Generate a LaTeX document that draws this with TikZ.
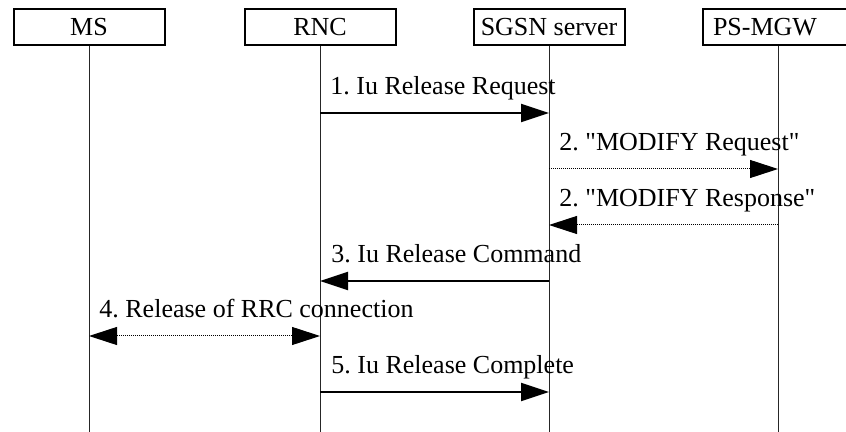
\documentclass[tikz,border=0pt]{standalone}
\usepackage{fontspec}
\setmainfont{Liberation Serif}
\usepackage{tikz}
\usetikzlibrary{arrows.meta}
\frenchspacing

\tikzset{
  entity/.style={draw, line width=1pt, minimum width=75.5pt, minimum height=18pt,
    inner sep=0pt, font=\fontsize{13}{15.6}\selectfont},
  lifeline/.style={draw=black!85, line width=0.5pt},
  lbl/.style={anchor=base west, inner sep=0pt, font=\fontsize{13}{15.6}\selectfont},
  msg/.style={line width=1pt, -{Triangle[length=14pt,width=9pt]}},
  dmsg/.style={line width=0.5pt, dash pattern=on 0.5pt off 0.5pt,
    -{Triangle[length=14pt,width=9pt]}},
  ddmsg/.style={dmsg, {Triangle[length=14pt,width=9pt]}-{Triangle[length=14pt,width=9pt]}}
}

\begin{document}
\begin{tikzpicture}[x=0.5pt,y=-0.5pt]
     \useasboundingbox (0,0) rectangle (846,432);
     % entities
     \node[entity] (ms)   at ( 89,27) {MS};
     \node[entity] (rnc)  at (320,27) {RNC};
     \node[entity] (sgsn) at (549,27) {SGSN server};
     \node[entity] (mgw)  at (778,27) {\hspace*{-13pt}PS-MGW};
     % lifelines
     \coordinate (ms-end)   at ( 89,432);
     \coordinate (rnc-end)  at (320,432);
     \coordinate (sgsn-end) at (549,432);
     \coordinate (mgw-end)  at (778,432);
     \draw[lifeline] (ms)   -- (ms-end);
     \draw[lifeline] (rnc)  -- (rnc-end);
     \draw[lifeline] (sgsn) -- (sgsn-end);
     \draw[lifeline] (mgw)  -- (mgw-end);
     % points on the lifelines
     \coordinate (rnc-a)  at (320,113);
     \coordinate (sgsn-a) at (549,113);
     \coordinate (sgsn-b) at (549,169);
     \coordinate (mgw-b)  at (778,169);
     \coordinate (sgsn-c) at (549,225);
     \coordinate (mgw-c)  at (778,225);
     \coordinate (sgsn-d) at (549,281);
     \coordinate (rnc-d)  at (320,281);
     \coordinate (ms-e)   at ( 89,336);
     \coordinate (rnc-e)  at (320,336);
     \coordinate (rnc-f)  at (320,392);
     \coordinate (sgsn-f) at (549,392);
     % messages
     \draw[msg]   (rnc-a)  -- (sgsn-a);
     \draw[dmsg]  (sgsn-b) -- (mgw-b);
     \draw[dmsg]  (mgw-c)  -- (sgsn-c);
     \draw[msg]   (sgsn-d) -- (rnc-d);
     \draw[ddmsg] (ms-e)   -- (rnc-e);
     \draw[msg]   (rnc-f)  -- (sgsn-f);
     % labels
     \node[lbl] (l1) at (330, 95) {1. Iu Release Request};
     \node[lbl] (l2) at (559,151) {2. \textquotedbl MODIFY Request\textquotedbl};
     \node[lbl] (l3) at (559,207) {2. \textquotedbl MODIFY Response\textquotedbl};
     \node[lbl] (l4) at (331,263) {3. Iu Release Command};
     \node[lbl] (l5) at ( 99,318) {4. Release of RRC connection};
     \node[lbl] (l6) at (331,374) {5. Iu Release Complete};
\end{tikzpicture}
\end{document}
